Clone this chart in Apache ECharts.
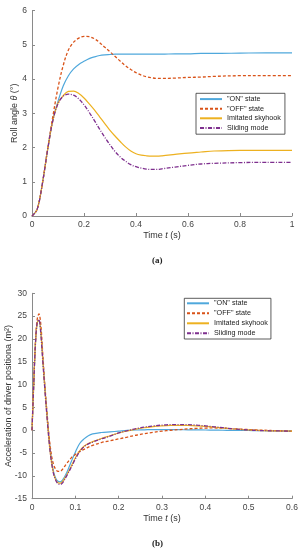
<!DOCTYPE html>
<html><head><meta charset="utf-8">
<script src="https://cdn.jsdelivr.net/npm/echarts@6/dist/echarts.min.js"></script>
<style>html,body{margin:0;padding:0;background:#fff}#c{width:299px;height:550px}</style>
</head><body><div id="c"></div>
<script>
const seriesNames = ['"ON" state', '"OFF" state', 'Imitated skyhook', 'Sliding mode'];
const xTicksA = [0, 0.2, 0.4, 0.6, 0.8, 1];
const yTicksA = [0, 1, 2, 3, 4, 5, 6];
const xTicksB = [0, 0.1, 0.2, 0.3, 0.4, 0.5, 0.6];
const yTicksB = [-15, -10, -5, 0, 5, 10, 15, 20, 25, 30];

const tA = [0,0.02,0.04,0.06,0.08,0.1,0.12,0.14,0.16,0.18,0.2,0.22,0.24,0.26,0.28,0.3,0.32,0.34,0.36,0.38,0.4,0.42,0.44,0.46,0.48,0.5,0.55,0.6,0.65,0.7,0.8,0.9,1.0];
const aOn = [0,0.2,0.95,1.93,2.8,3.35,3.8,4.1,4.3,4.43,4.52,4.6,4.65,4.69,4.71,4.72,4.73,4.73,4.73,4.73,4.73,4.73,4.73,4.73,4.73,4.73,4.74,4.74,4.75,4.75,4.76,4.77,4.77];
const aOff = [0,0.2,0.95,1.95,2.9,3.75,4.4,4.85,5.08,5.2,5.25,5.24,5.18,5.07,4.93,4.8,4.66,4.52,4.39,4.28,4.19,4.12,4.07,4.04,4.02,4.02,4.03,4.05,4.06,4.08,4.1,4.1,4.1];
const aSky = [0,0.2,0.95,1.93,2.78,3.3,3.52,3.64,3.65,3.58,3.45,3.28,3.1,2.9,2.7,2.5,2.33,2.17,2.02,1.9,1.82,1.78,1.76,1.75,1.75,1.76,1.8,1.84,1.87,1.9,1.92,1.92,1.92];
const aSlide = [0,0.2,0.95,1.93,2.78,3.28,3.5,3.56,3.53,3.42,3.25,3.03,2.79,2.54,2.3,2.08,1.88,1.72,1.6,1.5,1.44,1.4,1.37,1.36,1.36,1.38,1.43,1.48,1.52,1.54,1.56,1.57,1.57];

const tB = [0,0.004,0.008,0.012,0.016,0.02,0.025,0.03,0.035,0.04,0.045,0.05,0.055,0.06,0.065,0.07,0.08,0.09,0.1,0.11,0.12,0.13,0.14,0.16,0.18,0.2,0.22,0.24,0.26,0.28,0.3,0.32,0.34,0.36,0.38,0.4,0.42,0.44,0.46,0.48,0.5,0.52,0.55,0.6];
const bOn = [0,10,19,23.5,24.1,22,15.5,9,3,-2.5,-6.5,-9.2,-10.6,-11.2,-11.3,-11.0,-9.3,-7.0,-4.8,-2.9,-1.9,-1.2,-0.8,-0.5,-0.35,-0.2,-0.05,0.05,0.1,0.15,0.15,0.14,0.12,0.1,0.07,0.05,0.02,0,-0.02,-0.04,-0.06,-0.08,-0.12,-0.2];
const bOff = [0,10.5,19.5,24.3,25.5,23.5,16.5,9.5,3.5,-1.8,-5.5,-7.6,-8.6,-9.0,-9.0,-8.6,-7.3,-6.1,-5.3,-4.7,-4.2,-3.7,-3.3,-2.7,-2.3,-1.9,-1.5,-1.1,-0.75,-0.45,-0.2,0,0.15,0.3,0.4,0.48,0.5,0.45,0.35,0.25,0.15,0.05,-0.05,-0.2];
const bSky = [0,10,19,23.5,24.1,21.8,15.2,8.7,2.6,-3,-7,-9.5,-10.9,-11.5,-11.6,-11.3,-9.8,-8.0,-6.1,-4.5,-3.5,-2.9,-2.5,-1.8,-1.2,-0.6,-0.15,0.25,0.55,0.8,0.95,1.05,1.08,1.05,0.97,0.85,0.68,0.5,0.33,0.18,0.06,-0.03,-0.12,-0.2];
const bSlide = [0,10,19,23.6,24.2,21.5,15,8.5,2.5,-3,-7,-9.6,-11,-11.7,-11.9,-11.6,-10,-8.2,-6.3,-4.7,-3.6,-3.0,-2.6,-1.9,-1.3,-0.6,-0.1,0.35,0.7,0.95,1.12,1.22,1.25,1.22,1.12,0.95,0.75,0.55,0.35,0.18,0.05,-0.05,-0.12,-0.2];

const colors = ['#4fa8dc', '#d95319', '#edb120', '#7e2f8e'];
const lineTypes = ['solid', [3, 2], 'solid', [4, 1.5, 1, 1.5]];
const widths = [1.2, 1.3, 1.2, 1.3];

function pairs(t, v) { return t.map((x, i) => [x, v[i]]); }
function mk(idx, t, v, g) {
  return {
    name: seriesNames[idx], type: 'line', xAxisIndex: g, yAxisIndex: g,
    data: pairs(t, v), symbol: 'none', smooth: 0.35, animation: false,
    lineStyle: { color: colors[idx], width: widths[idx], type: lineTypes[idx] },
    itemStyle: { color: colors[idx] }, z: 2 + idx
  };
}

const axisLine = { show: true, onZero: false, lineStyle: { color: '#8a8a8a', width: 1 } };
const axisTick = { show: true, inside: true, length: 3, lineStyle: { color: '#8a8a8a' } };
const lbl = { color: '#444', fontSize: 8.5, fontFamily: 'Liberation Sans, Arial, sans-serif' };
const nameRich = { a: { fontSize: 9, color: '#333', fontFamily: 'Liberation Sans, Arial, sans-serif' }, i: { fontSize: 9, color: '#333', fontStyle: 'italic', fontFamily: 'Liberation Sans, Arial, sans-serif' } };

function xAx(g, ticks) {
  return {
    type: 'value', gridIndex: g, min: ticks[0], max: ticks[ticks.length - 1], interval: ticks[1] - ticks[0],
    axisLine, axisTick, splitLine: { show: false },
    axisLabel: Object.assign({ margin: 4, showMaxLabel: true, showMinLabel: true }, lbl),
    name: '{a|Time }{i|t}{a| (s)}', nameLocation: 'middle', nameGap: 15, nameMoveOverlap: false,
    nameTextStyle: { rich: nameRich }
  };
}
function yAx(g, ticks, name, gap) {
  return {
    type: 'value', gridIndex: g, min: ticks[0], max: ticks[ticks.length - 1], interval: ticks[1] - ticks[0],
    axisLine, axisTick, splitLine: { show: false },
    axisLabel: Object.assign({ margin: 5 }, lbl),
    name: name, nameLocation: 'middle', nameGap: gap, nameMoveOverlap: false,
    nameTextStyle: { rich: nameRich }
  };
}
function legend(g, left, top, rowH, pad) {
  return {
    data: seriesNames, orient: 'vertical', left: left, top: top,
    backgroundColor: '#fff', borderColor: '#333', borderWidth: 0.8, borderRadius: 0,
    padding: pad, itemGap: 0, itemWidth: 22, itemHeight: 6,
    itemStyle: { opacity: 0 },
    textStyle: { fontSize: 7.2, lineHeight: rowH, color: '#222', fontFamily: 'Liberation Sans, Arial, sans-serif' },
    selectedMode: false
  };
}

const chart = echarts.init(document.getElementById('c'), null, { renderer: 'canvas' });
chart.setOption({
  animation: false,
  backgroundColor: '#fff',
  grid: [
    { left: 32, top: 10.7, width: 260, height: 205.3, outerBoundsMode: 'none', containLabel: false },
    { left: 32, top: 293.3, width: 260, height: 205.4, outerBoundsMode: 'none', containLabel: false }
  ],
  xAxis: [xAx(0, xTicksA), xAx(1, xTicksB)],
  yAxis: [
    yAx(0, yTicksA, '{a|Roll angle }{i|θ}{a| (°)}', 13),
    yAx(1, yTicksB, '{a|Acceleration of driver positiona (m²)}', 19)
  ],
  legend: [legend(0, 196, 93.3, 9.6, [1, 4, 1.5, 3]), legend(1, 184.3, 298.3, 10, [0, 3, 0.7, 1.7])],
  series: [
    mk(0, tA, aOn, 0), mk(1, tA, aOff, 0), mk(2, tA, aSky, 0), mk(3, tA, aSlide, 0),
    mk(0, tB, bOn, 1), mk(1, tB, bOff, 1), mk(2, tB, bSky, 1), mk(3, tB, bSlide, 1)
  ],
  graphic: [
    { type: 'text', left: 152, top: 256, style: { text: '(a)', font: 'bold 9px "Liberation Serif", serif', fill: '#222' } },
    { type: 'text', left: 152, top: 539, style: { text: '(b)', font: 'bold 9px "Liberation Serif", serif', fill: '#222' } }
  ]
});
</script></body></html>
